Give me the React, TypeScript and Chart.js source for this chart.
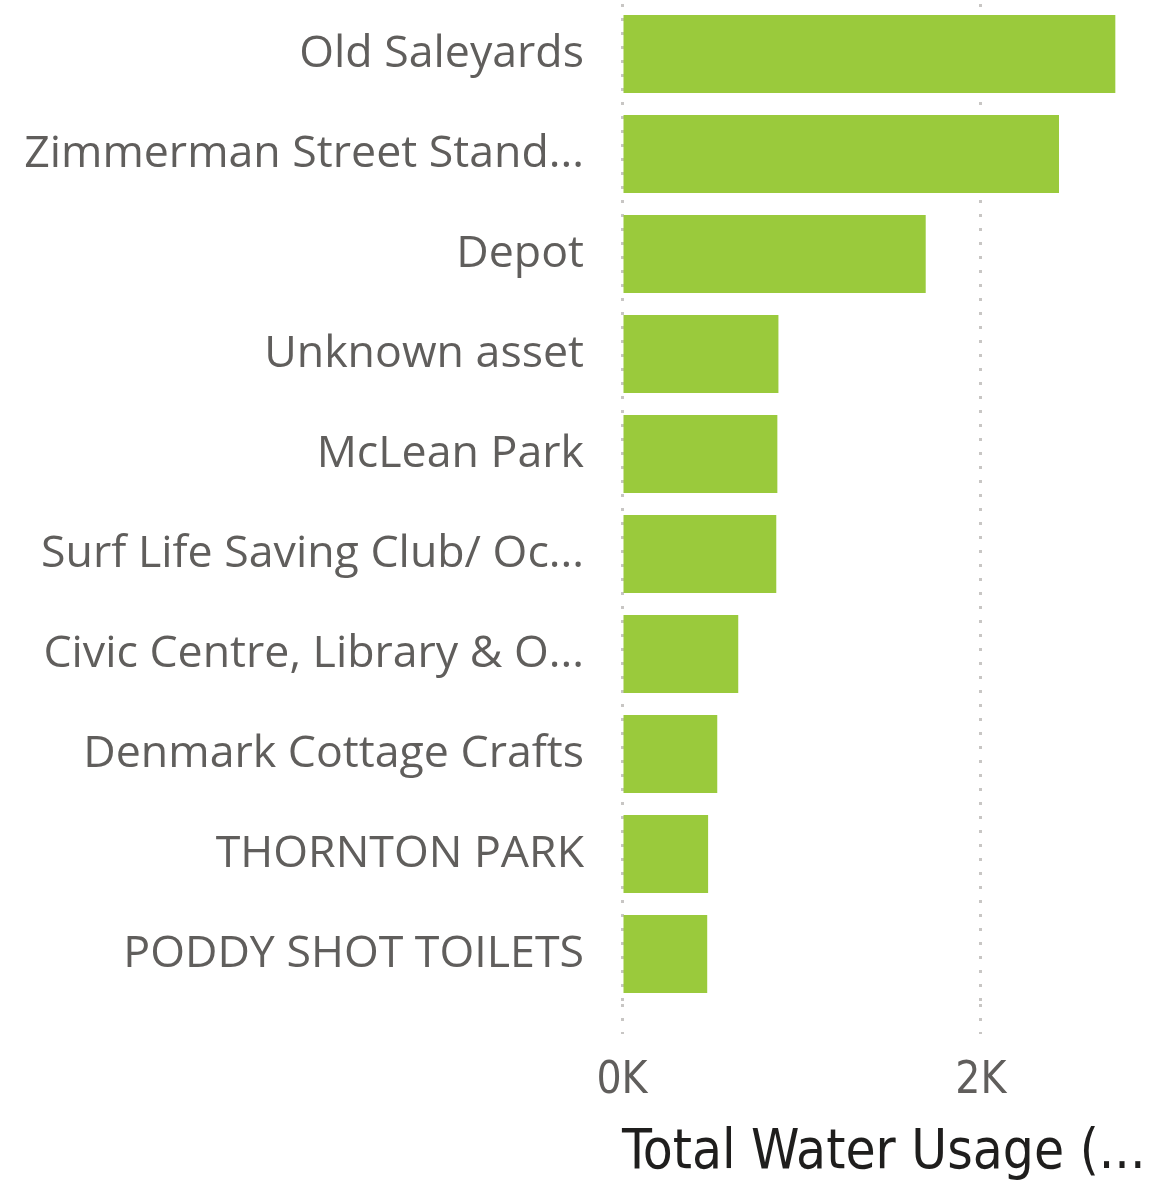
import React, { useEffect, useRef } from "react";
import { Chart, registerables } from "chart.js";

Chart.register(...registerables);

const categories = [
  "Old Saleyards",
  "Zimmerman Street Stand...",
  "Depot",
  "Unknown asset",
  "McLean Park",
  "Surf Life Saving Club/ Oc...",
  "Civic Centre, Library & O...",
  "Denmark Cottage Crafts",
  "THORNTON PARK",
  "PODDY SHOT TOILETS",
];
const waterUsage = [2750, 2436, 1693, 872, 866, 860, 648, 531, 480, 475];
const xTickValues = [0, 2000];
const axisTitle = "Total Water Usage (...";

export default function App() {
  const ref = useRef<HTMLCanvasElement | null>(null);
  useEffect(() => {
    document.body.style.margin = "0";
    const ctx = ref.current!;
    const chart = new Chart(ctx, {
      type: "bar",
      data: {
        labels: categories,
        datasets: [
          {
            data: waterUsage,
            backgroundColor: "#9ACA3C",
            barPercentage: 0.78,
            categoryPercentage: 1,
          },
        ],
      },
      options: {
        indexAxis: "y",
        animation: false,
        responsive: false,
        maintainAspectRatio: false,
        layout: { padding: { top: 4, right: 0, left: 0, bottom: 0 } },
        plugins: { legend: { display: false }, tooltip: { enabled: false } },
        scales: {
          y: {
            grid: { display: false, drawTicks: false },
            border: { display: false },
            ticks: {
              color: "#605E5C",
              padding: 38,
              font: { family: "'Open Sans'", size: 44.7 },
            },
            afterFit: (scale: any) => {
              scale.width = 622;
              scale.paddingTop = 0;
              scale.paddingBottom = 0;
            },
          },
          x: {
            min: 0,
            max: 2960,
            border: { display: false, dash: [3, 11] },
            grid: {
              color: "#C8C6C4",
              lineWidth: 3,
              drawTicks: true,
              tickLength: 30,
              tickColor: "#C8C6C4",
              tickWidth: 3,
              tickBorderDash: [3, 11],
            } as any,
            afterBuildTicks: (scale: any) => {
              scale.ticks = xTickValues.map((v) => ({ value: v }));
            },
            ticks: {
              color: "#605E5C",
              padding: 21,
              font: { family: "'DejaVu Sans Condensed', 'DejaVu Sans'", size: 44 },
              callback: (v: any) => `${Number(v) / 1000}K`,
            },
            title: {
              display: true,
              text: axisTitle,
              align: "start",
              color: "#1F1E1D",
              padding: { top: 0, bottom: -6 },
              font: { family: "'DejaVu Sans Condensed', 'DejaVu Sans'", size: 54.5 },
            },
            afterFit: (scale: any) => {
              scale.height = 177;
              scale.paddingLeft = 0;
              scale.paddingRight = 0;
            },
          },
        },
      },
    });
    return () => chart.destroy();
  }, []);
  return (
    <div style={{ width: 1153, height: 1181 }}>
      <canvas ref={ref} width={1153} height={1181} style={{ display: "block" }} />
    </div>
  );
}
